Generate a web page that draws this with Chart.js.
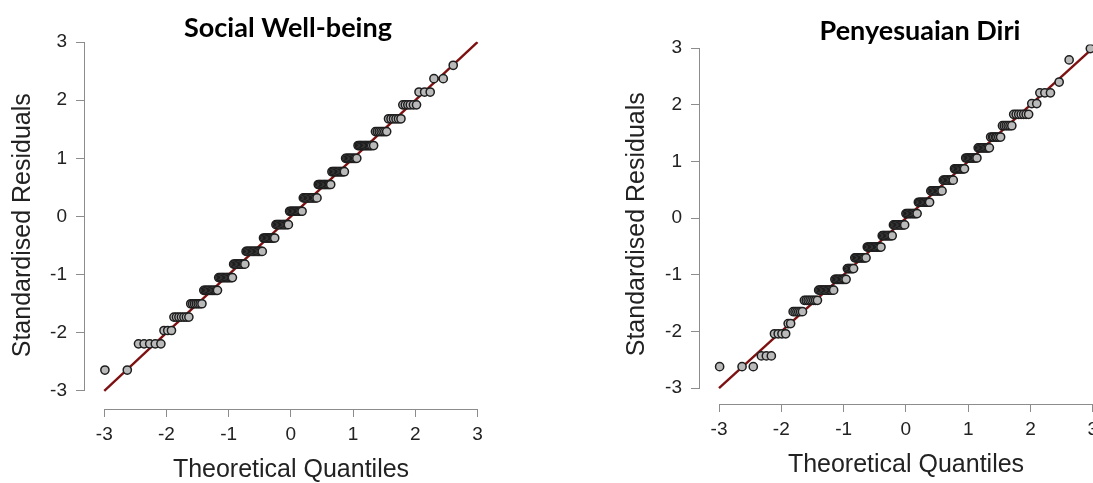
<!DOCTYPE html>
<html>
<head>
<meta charset="utf-8">
<script src="https://cdn.jsdelivr.net/npm/chart.js@4.4.1/dist/chart.umd.min.js"></script>
<style>
  html, body { margin: 0; padding: 0; background: #fff; width: 1093px; height: 483px; overflow: hidden; }
  canvas { position: absolute; top: 0; }
  #qqSW { left: 0; }
  #qqPD { left: 610px; }
</style>
</head>
<body>
<canvas id="qqSW" width="576" height="483"></canvas>
<canvas id="qqPD" width="620" height="483"></canvas>
<script>
// Q-Q plot residuals (theoretical quantile per point, grouped by residual level)
const tickVals = [-3, -2, -1, 0, 1, 2, 3];
const refLine = [-3, 3]; // y = x reference line ends

const swLevels = [-2.64, -2.19, -1.96, -1.73, -1.50, -1.27, -1.05, -0.82, -0.60, -0.37, -0.14, 0.09,
  0.32, 0.55, 0.77, 1.00, 1.22, 1.46, 1.68, 1.92, 2.14, 2.37, 2.60];
const swX = [
  [-2.99, -2.63],
  [-2.45, -2.36, -2.27, -2.18, -2.09],
  [-2.04, -1.98, -1.92],
  [-1.88, -1.84, -1.80, -1.76, -1.72, -1.68, -1.64],
  [-1.61, -1.58, -1.55, -1.52, -1.49, -1.46, -1.43],
  [-1.40, -1.38, -1.36, -1.34, -1.32, -1.30, -1.28, -1.26, -1.24, -1.22, -1.20, -1.18],
  [-1.16, -1.14, -1.12, -1.10, -1.08, -1.06, -1.04, -1.02, -1.00, -0.98, -0.96, -0.94],
  [-0.92, -0.90, -0.88, -0.86, -0.84, -0.82, -0.80, -0.78, -0.76, -0.74],
  [-0.72, -0.70, -0.68, -0.66, -0.64, -0.62, -0.60, -0.58, -0.56, -0.54, -0.52, -0.50, -0.48, -0.46],
  [-0.44, -0.42, -0.40, -0.38, -0.36, -0.34, -0.32, -0.30, -0.28, -0.26],
  [-0.24, -0.22, -0.20, -0.18, -0.16, -0.14, -0.12, -0.10, -0.08, -0.06, -0.04],
  [-0.02, 0.00, 0.02, 0.04, 0.06, 0.08, 0.10, 0.12, 0.14, 0.16, 0.18],
  [0.20, 0.22, 0.24, 0.26, 0.28, 0.30, 0.32, 0.34, 0.36, 0.38, 0.40, 0.42],
  [0.44, 0.46, 0.48, 0.50, 0.52, 0.54, 0.56, 0.58, 0.60, 0.62, 0.64],
  [0.66, 0.68, 0.70, 0.72, 0.74, 0.76, 0.78, 0.80, 0.82, 0.84, 0.86],
  [0.88, 0.90, 0.92, 0.94, 0.96, 0.98, 1.00, 1.02, 1.04, 1.06],
  [1.08, 1.10, 1.12, 1.14, 1.16, 1.18, 1.20, 1.22, 1.24, 1.26, 1.28, 1.30, 1.33],
  [1.36, 1.39, 1.42, 1.45, 1.48, 1.51, 1.54],
  [1.57, 1.61, 1.65, 1.69, 1.73, 1.77],
  [1.80, 1.84, 1.88, 1.92, 1.97, 2.02],
  [2.06, 2.15, 2.24],
  [2.30, 2.45],
  [2.61]
];

const pdLevels = [-2.62, -2.43, -2.04, -1.86, -1.65, -1.45, -1.27, -1.08, -0.89, -0.70, -0.51, -0.31, -0.12,
  0.08, 0.28, 0.48, 0.67, 0.87, 1.06, 1.24, 1.43, 1.63, 1.83, 2.02, 2.21, 2.40, 2.79, 2.99];
const pdX = [
  [-2.99, -2.63, -2.45],
  [-2.32, -2.24, -2.16],
  [-2.11, -2.05, -1.99, -1.93],
  [-1.89, -1.85],
  [-1.81, -1.78, -1.75, -1.72, -1.69, -1.66],
  [-1.63, -1.60, -1.57, -1.54, -1.51, -1.48, -1.45, -1.42],
  [-1.40, -1.38, -1.36, -1.34, -1.32, -1.30, -1.28, -1.26, -1.24, -1.22, -1.20, -1.18, -1.16],
  [-1.14, -1.12, -1.10, -1.08, -1.06, -1.04, -1.02, -1.00, -0.98, -0.96],
  [-0.94, -0.92, -0.90, -0.88, -0.86, -0.84],
  [-0.82, -0.80, -0.78, -0.76, -0.74, -0.72, -0.70, -0.68, -0.66, -0.64],
  [-0.62, -0.60, -0.58, -0.56, -0.54, -0.52, -0.50, -0.48, -0.46, -0.44, -0.42, -0.40],
  [-0.38, -0.36, -0.34, -0.32, -0.30, -0.28, -0.26, -0.24, -0.22],
  [-0.20, -0.18, -0.16, -0.14, -0.12, -0.10, -0.08, -0.06, -0.04, -0.02],
  [0.00, 0.02, 0.04, 0.06, 0.08, 0.10, 0.12, 0.14, 0.16, 0.18],
  [0.20, 0.22, 0.24, 0.26, 0.28, 0.30, 0.32, 0.34, 0.36, 0.38],
  [0.40, 0.42, 0.44, 0.46, 0.48, 0.50, 0.52, 0.54, 0.56, 0.58],
  [0.60, 0.62, 0.64, 0.66, 0.68, 0.70, 0.72, 0.74, 0.76],
  [0.78, 0.80, 0.82, 0.84, 0.86, 0.88, 0.90, 0.92, 0.94],
  [0.96, 0.98, 1.00, 1.02, 1.04, 1.06, 1.08, 1.10, 1.12, 1.14],
  [1.16, 1.18, 1.20, 1.22, 1.24, 1.26, 1.28, 1.30, 1.32, 1.34],
  [1.36, 1.39, 1.41, 1.44, 1.46, 1.49, 1.52],
  [1.55, 1.58, 1.61, 1.64, 1.67, 1.70],
  [1.73, 1.77, 1.81, 1.85, 1.89, 1.93, 1.97],
  [2.02, 2.10],
  [2.15, 2.23, 2.32],
  [2.46],
  [2.62],
  [2.96]
];

const AXIS_GRAY = '#8c8c8c';
const TEXT_DARK = '#222';

// R style axes: the line only runs from the first to the last tick
const rAxes = {
  id: 'rAxes',
  afterDraw(chart) {
    const { ctx, chartArea, scales: { x, y } } = chart;
    const lo = tickVals[0], hi = tickVals[tickVals.length - 1];
    ctx.save();
    ctx.strokeStyle = AXIS_GRAY;
    ctx.lineWidth = 1;
    ctx.beginPath();
    ctx.moveTo(x.getPixelForValue(lo), chartArea.bottom + 0.5);
    ctx.lineTo(x.getPixelForValue(hi), chartArea.bottom + 0.5);
    ctx.moveTo(chartArea.left - 0.5, y.getPixelForValue(lo));
    ctx.lineTo(chartArea.left - 0.5, y.getPixelForValue(hi));
    ctx.stroke();
    ctx.restore();
  }
};

function makeQQ(id, title, levels, xs, g) {
  const points = levels.flatMap((lv, i) => xs[i].map(v => ({ x: v, y: lv })));
  const setTicks = s => { s.ticks = tickVals.map(v => ({ value: v })); };

  return new Chart(document.getElementById(id), {
    type: 'scatter',
    data: {
      datasets: [
        {
          data: points,
          pointRadius: 4.1,
          pointBorderWidth: 1.5,
          pointBackgroundColor: '#bababa',
          pointBorderColor: '#1e1e1e'
        },
        {
          type: 'line',
          data: refLine.map(v => ({ x: v, y: v })),
          borderColor: '#7d1010',
          borderWidth: 2.4,
          pointRadius: 0
        }
      ]
    },
    options: {
      responsive: false,
      animation: false,
      events: [],
      layout: { padding: 0 },
      plugins: {
        legend: { display: false },
        tooltip: { enabled: false },
        title: {
          display: true,
          text: title,
          color: '#000',
          font: { family: 'Lato', weight: 'bold', size: 27, lineHeight: 1 },
          padding: { top: g.titleTop, bottom: 0 }
        }
      },
      scales: {
        x: {
          type: 'linear',
          min: g.xMin, max: g.xMax,
          afterBuildTicks: setTicks,
          afterFit: s => { s.height = g.xH; },
          border: { display: false },
          grid: { drawOnChartArea: false, color: AXIS_GRAY, tickLength: 8 },
          ticks: { color: TEXT_DARK, padding: 6, font: { family: 'Liberation Sans', size: 19 } },
          title: {
            display: true, text: 'Theoretical Quantiles', color: TEXT_DARK,
            font: { family: 'Liberation Sans', size: 25, lineHeight: 1 },
            padding: { top: 0, bottom: g.xTitleBottom }
          }
        },
        y: {
          type: 'linear',
          min: g.yMin, max: g.yMax,
          afterBuildTicks: setTicks,
          afterFit: s => { s.width = g.yW; },
          border: { display: false },
          grid: { drawOnChartArea: false, color: AXIS_GRAY, tickLength: 9 },
          ticks: { color: TEXT_DARK, padding: 9, font: { family: 'Liberation Sans', size: 19 } },
          title: {
            display: true, text: 'Standardised Residuals', color: TEXT_DARK,
            font: { family: 'Liberation Sans', size: 25, lineHeight: 1 },
            padding: { top: g.yTitleLeft, bottom: 0 }
          }
        },
        // empty right axis, only there to keep the plot centred under its title
        y2: {
          position: 'right',
          display: true,
          afterFit: s => { s.width = g.rightW; },
          border: { display: false },
          grid: { display: false },
          ticks: { display: false }
        }
      }
    },
    plugins: [rAxes]
  });
}

makeQQ('qqSW', 'Social Well-being', swLevels, swX, {
  titleTop: 14.5, xMin: -3.31, xMax: 3.314, yMin: -3.31, yMax: 3.009,
  xH: 74, yW: 85, rightW: 79, xTitleBottom: 0.5, yTitleLeft: 10.5
});

makeQQ('qqPD', 'Penyesuaian Diri', pdLevels, pdX, {
  titleTop: 17.5, xMin: -3.305, xMax: 3.308, yMin: -3.278, yMax: 3.062,
  xH: 79, yW: 90, rightW: 118, xTitleBottom: 5.5, yTitleLeft: 14.5
});
</script>
</body>
</html>
